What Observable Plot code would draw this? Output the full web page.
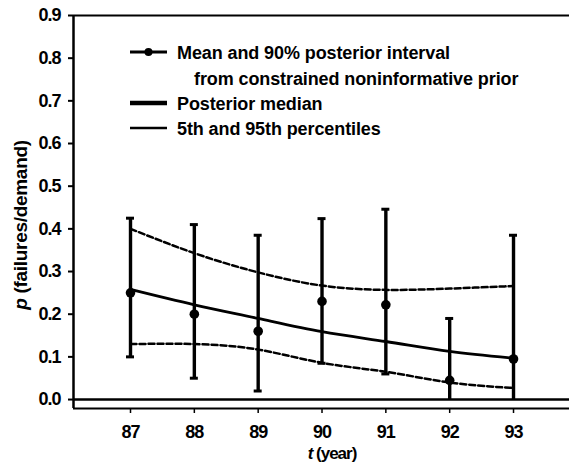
<!DOCTYPE html>
<html>
<head>
<meta charset="utf-8">
<script src="https://cdn.jsdelivr.net/npm/d3@7"></script>
<script src="https://cdn.jsdelivr.net/npm/@observablehq/plot@0.6"></script>
<style>
  html, body { margin: 0; padding: 0; background: #fff; }
  #chart svg { display: block; }
</style>
</head>
<body>
<div id="chart"></div>
<script>
// ---- data ----
const years   = [87, 88, 89, 90, 91, 92, 93];
const meanP   = [0.25, 0.20, 0.16, 0.23, 0.222, 0.045, 0.095];
const lowP    = [0.10, 0.05, 0.02, 0.085, 0.06, 0.0, 0.0];
const highP   = [0.425, 0.41, 0.385, 0.424, 0.446, 0.19, 0.385];
const medianP = [0.258, 0.222, 0.19, 0.159, 0.136, 0.113, 0.097];
const pct95   = [0.40, 0.343, 0.298, 0.267, 0.257, 0.26, 0.266];
const pct5    = [0.13, 0.13, 0.117, 0.086, 0.065, 0.04, 0.027];
const yTicks  = [0, 0.1, 0.2, 0.3, 0.4, 0.5, 0.6, 0.7, 0.8, 0.9];
const xDomain = [86.107, 93.877];
const yDomain = [-0.021, 0.9];
const legendLabels = [
  "Mean and 90% posterior interval",
  "from constrained noninformative prior",
  "Posterior median",
  "5th and 95th percentiles"
];

const rows = years.map((t, i) => ({
  t, mean: meanP[i], lo: lowP[i], hi: highP[i],
  med: medianP[i], p95: pct95[i], p5: pct5[i]
}));

const FONT = "'Liberation Sans', Arial, Helvetica, sans-serif";

const plot = Plot.plot({
  width: 569,
  height: 468,
  marginLeft: 73,
  marginRight: 0,
  marginTop: 15,
  marginBottom: 60,
  style: {fontFamily: FONT, fontWeight: "bold", fontSize: "18px", color: "#000", background: "#fff", letterSpacing: "-1px"},
  x: {domain: xDomain},
  y: {domain: yDomain},
  marks: [
    Plot.axisY({ticks: yTicks, tickFormat: d3.format(".1f"), tickSize: 5, tickPadding: 8, strokeWidth: 2, label: null}),
    Plot.axisX({ticks: years, tickFormat: d => String(d), tickSize: 5, tickPadding: 12, strokeWidth: 1.5, label: null}),
    // frame lines (left, top, bottom) and zero line
    Plot.ruleX([xDomain[0]], {strokeWidth: 2.5}),
    Plot.ruleY([yDomain[1]], {strokeWidth: 2}),
    Plot.ruleY([yDomain[0]], {strokeWidth: 2}),
    Plot.ruleY([0], {strokeWidth: 2.5}),
    // percentile curves
    Plot.line(rows, {x: "t", y: "p95", curve: "natural", strokeWidth: 2.5, strokeDasharray: "6,3"}),
    Plot.line(rows, {x: "t", y: "p5", curve: "natural", strokeWidth: 2.5, strokeDasharray: "6,3"}),
    // median
    Plot.line(rows, {x: "t", y: "med", curve: "natural", strokeWidth: 2.8}),
    // error bars
    Plot.ruleX(rows, {x: "t", y1: "lo", y2: "hi", strokeWidth: 3.4}),
    Plot.ruleY(rows, {y: "hi", x1: "t", x2: "t", insetLeft: -4, insetRight: -4, strokeWidth: 3}),
    Plot.ruleY(rows.filter(d => d.lo > 0), {y: "lo", x1: "t", x2: "t", insetLeft: -4, insetRight: -4, strokeWidth: 3}),
    Plot.dot(rows, {x: "t", y: "mean", r: 4.8, fill: "#000", stroke: "none"})
  ]
});

document.getElementById("chart").appendChild(plot);

// ---- axis titles with italic symbols ----
const svg = d3.select(plot);
const yt = svg.append("text")
  .attr("transform", "translate(27,225) rotate(-90)")
  .attr("text-anchor", "middle")
  .style("font-family", FONT).style("font-weight", "bold").style("font-size", "19px")
  .style("letter-spacing", "-0.3px");
yt.append("tspan").style("font-style", "italic").text("p");
yt.append("tspan").text(" (failures/demand)");

const xt = svg.append("text")
  .attr("x", 332).attr("y", 459)
  .attr("text-anchor", "middle")
  .style("font-family", FONT).style("font-weight", "bold").style("font-size", "17px")
  .style("letter-spacing", "-1px");
xt.append("tspan").style("font-style", "italic").text("t");
xt.append("tspan").text(" (year)");

// ---- legend ----
const lg = svg.append("g").attr("text-anchor", "start")
  .style("font-family", FONT).style("font-weight", "bold").style("font-size", "18px").style("letter-spacing", "-0.1px");
const sx0 = 130, sx1 = 167, tx = 177;
// entry 1: mean and interval
lg.append("line").attr("x1", sx0).attr("x2", sx1).attr("y1", 52).attr("y2", 52).attr("stroke", "#000").attr("stroke-width", 3.2);
lg.append("circle").attr("cx", (sx0 + sx1) / 2).attr("cy", 52).attr("r", 4).attr("fill", "#000");
lg.append("text").attr("text-anchor", "start").attr("x", tx).attr("y", 58.5).text(legendLabels[0]);
lg.append("text").attr("text-anchor", "start").attr("x", 194).attr("y", 84.5).text(legendLabels[1]);
// entry 2: median
lg.append("line").attr("x1", sx0).attr("x2", sx1).attr("y1", 103).attr("y2", 103).attr("stroke", "#000").attr("stroke-width", 4.5);
lg.append("text").attr("text-anchor", "start").attr("x", tx).attr("y", 109.5).text(legendLabels[2]);
// entry 3: percentiles
lg.append("line").attr("x1", sx0).attr("x2", sx1).attr("y1", 128).attr("y2", 128).attr("stroke", "#000").attr("stroke-width", 2.5);
lg.append("text").attr("text-anchor", "start").attr("x", tx).attr("y", 134.5).text(legendLabels[3]);
</script>
</body>
</html>
